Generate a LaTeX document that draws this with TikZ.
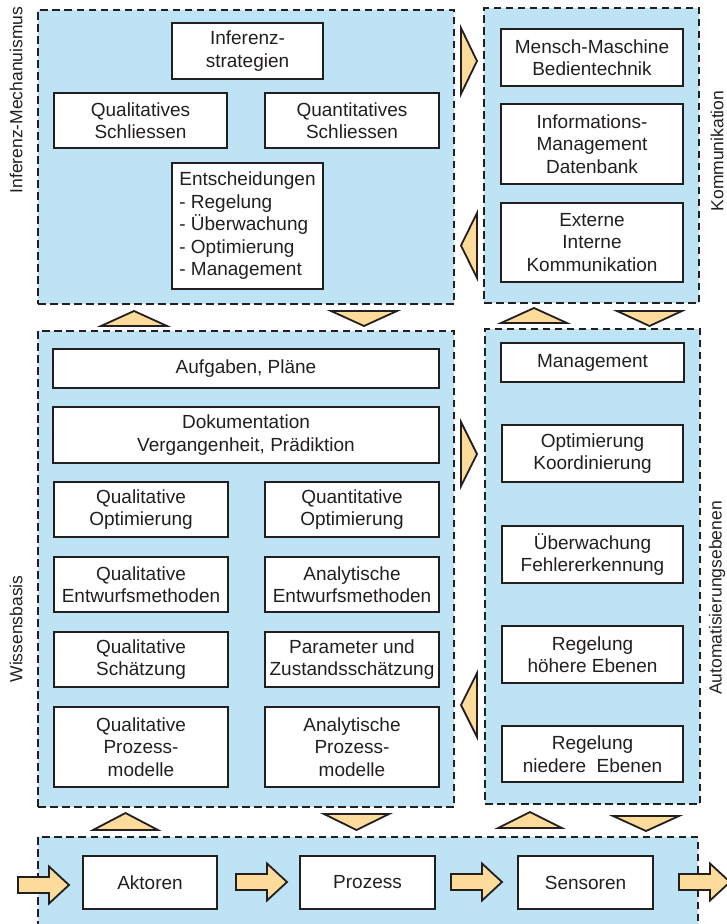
\documentclass[tikz,border=0pt]{standalone}
\usepackage{fontspec}
\setmainfont{Liberation Sans}
\definecolor{panelblue}{RGB}{190,227,245}
\definecolor{arrowfill}{RGB}{253,220,155}
\definecolor{ink}{RGB}{35,31,32}

\tikzset{
  panel/.style={fill=panelblue, draw=ink, line width=1.8pt, dash pattern=on 7.5pt off 4.5pt, inner sep=0pt},
  box/.style={draw=ink, fill=white, line width=2pt, text=ink, align=center, inner sep=0pt,
              font=\fontsize{19}{22.5}\selectfont},
  tri/.style={fill=arrowfill, draw=ink, line width=1.8pt, line join=miter},
  sidelabel/.style={text=ink, font=\fontsize{17.5}{21}\selectfont, rotate=90, inner sep=0pt}
}

% box from corner (x1,y1) to (x2,y2)
\newcommand\boxat[7][]{%
  \node[box, #1, minimum width={(#5-#3)*1pt}, minimum height={(#6-#4)*1pt}]
    (#2) at ({(#3+#5)/2},{(#4+#6)/2}) {#7};}
% dashed panel from corner (x1,y1) to (x2,y2)
\newcommand\panelat[5]{%
  \node[panel, minimum width={(#4-#2)*1pt}, minimum height={(#5-#3)*1pt}]
    (#1) at ({(#2+#4)/2},{(#3+#5)/2}) {};}
% triangles: x1, x2, base y, apex y
\newcommand\vtri[4]{\draw[tri] (#1,#3) -- (#2,#3) -- ({(#1+#2)/2},#4) -- cycle;}
% triangles: base x, apex x, y1, y2
\newcommand\htri[4]{\draw[tri] (#1,#3) -- (#1,#4) -- (#2,{(#3+#4)/2}) -- cycle;}
% block arrow: start x, centre y
\newcommand\blockarrow[2]{\draw[tri]
  (#1,#2-8) -- (#1+31,#2-8) -- (#1+31,#2-18.5) -- (#1+51,#2) --
  (#1+31,#2+18.5) -- (#1+31,#2+8) -- (#1,#2+8) -- cycle;}

\begin{document}
\begin{tikzpicture}[x=1pt,y=-1pt]
\useasboundingbox (0,0) rectangle (727,924);
\clip (0,0) rectangle (727,924);

% panels
\panelat{inf}{38}{10}{454}{304}
\panelat{kom}{484}{8}{699}{303}
\panelat{wis}{38}{331}{454}{807}
\panelat{aut}{485}{329}{700}{804}
\panelat{pro}{38}{837}{698}{945}

% side labels
\node[sidelabel] (linf) at (16,100) {Inferenz-Mechanuismus};
\node[sidelabel] (lwis) at (16,629) {Wissensbasis};
\node[sidelabel] (lkom) at (717,151) {Kommunikation};
\node[sidelabel] (laut) at (717,598) {Automatisierungsebenen};

% inference mechanism
\boxat{strat}{172}{23}{323}{79}{Inferenz-\\strategien}
\boxat{qls}{54}{93}{227}{148}{Qualitatives\\Schliessen}
\boxat{qns}{265}{93}{439}{148}{Quantitatives\\Schliessen}
\boxat[align=left]{ent}{172}{163}{323}{289}{Entscheidungen\\ - Regelung\\ - Überwachung\\ - Optimierung\\ - Management}

% communication
\boxat{mm}{501}{29}{683}{86}{Mensch-Maschine\\Bedientechnik}
\boxat{im}{501}{104}{683}{184}{Informations-\\Management\\Datenbank}
\boxat{ek}{501}{203}{683}{282}{Externe\\Interne\\Kommunikation}

% knowledge base
\boxat{auf}{53}{349}{439}{388}{Aufgaben, Pläne}
\boxat{dok}{53}{407}{439}{463}{Dokumentation\\Vergangenheit, Prädiktion}
\boxat{qo}{54}{482}{228}{537}{Qualitative\\Optimierung}
\boxat{no}{265}{482}{439}{537}{Quantitative\\Optimierung}
\boxat{qe}{54}{557}{228}{612}{Qualitative\\Entwurfsmethoden}
\boxat{ae}{265}{557}{439}{612}{Analytische\\Entwurfsmethoden}
\boxat{qs}{54}{632}{228}{687}{Qualitative\\Schätzung}
\boxat{ps}{265}{632}{439}{687}{Parameter und\\Zustandsschätzung}
\boxat{qm}{54}{707}{228}{787}{Qualitative\\Prozess-\\modelle}
\boxat{am}{265}{707}{439}{787}{Analytische\\Prozess-\\modelle}

% automation levels
\boxat{mg}{501}{343}{684}{382}{Management}
\boxat{ok}{502}{425}{683}{482}{Optimierung\\Koordinierung}
\boxat{uf}{502}{526}{683}{583}{Überwachung\\Fehlererkennung}
\boxat{rh}{502}{626}{683}{683}{Regelung\\höhere Ebenen}
\boxat{rn}{502}{726}{683}{782}{Regelung\\niedere\ \ Ebenen}

% process chain
\boxat{akt}{83}{856}{217}{909}{Aktoren}
\boxat{prz}{300}{856}{435}{909}{Prozess}
\boxat{sen}{518}{856}{653}{909}{Sensoren}

% exchange triangles between panels
\vtri{101}{167}{326}{311}
\vtri{331}{397}{311}{326}
\vtri{501}{567}{323}{308}
\vtri{617}{682}{311}{326}
\vtri{93}{158}{830}{813}
\vtri{324}{389}{814}{830}
\vtri{498}{562}{828}{812}
\vtri{613}{679}{816}{831}
\htri{461}{477}{28}{94}
\htri{477}{461}{213}{278}
\htri{461}{477}{422}{486}
\htri{477}{461}{673}{737}

% signal flow through the process chain
\blockarrow{18}{885}
\blockarrow{236}{882}
\blockarrow{451}{882}
\blockarrow{679}{882}
\end{tikzpicture}
\end{document}
